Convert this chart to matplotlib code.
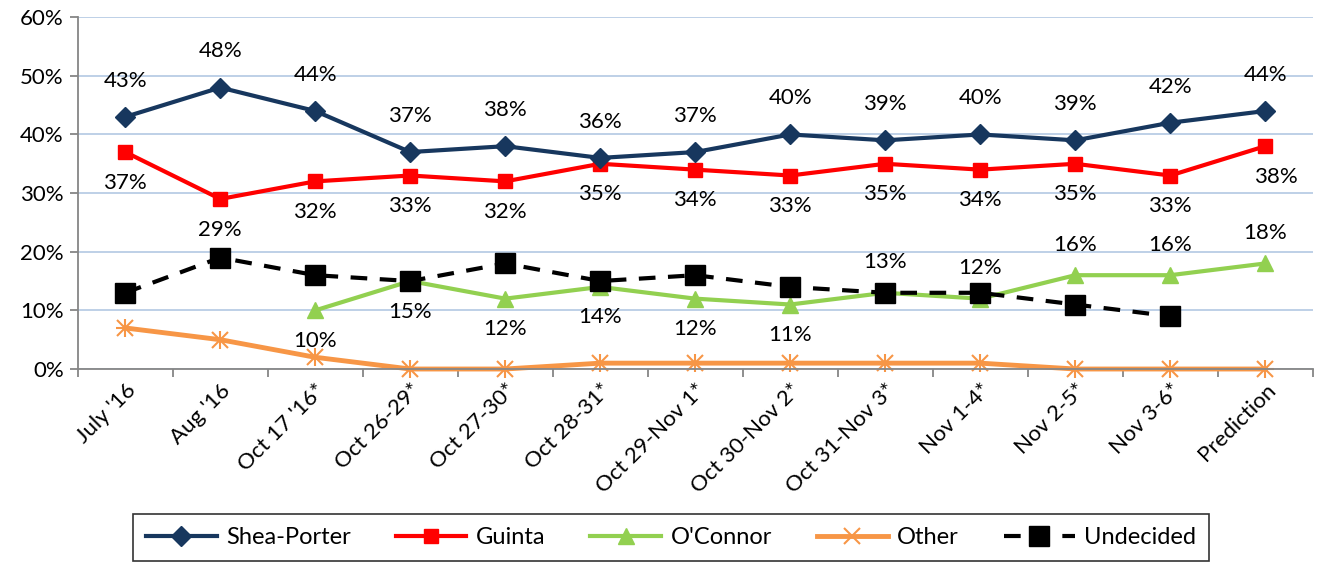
import numpy as np
import matplotlib.pyplot as plt
from matplotlib.ticker import FixedLocator

plt.rcParams['font.family'] = ['Lato', 'DejaVu Sans']

categories = ["July '16", "Aug '16", "Oct 17 '16*", "Oct 26-29*", "Oct 27-30*", "Oct 28-31*",
              "Oct 29-Nov 1*", "Oct 30-Nov 2*", "Oct 31-Nov 3*", "Nov 1-4*", "Nov 2-5*",
              "Nov 3-6*", "Prediction"]
shea_porter = [43, 48, 44, 37, 38, 36, 37, 40, 39, 40, 39, 42, 44]
guinta = [37, 29, 32, 33, 32, 35, 34, 33, 35, 34, 35, 33, 38]
oconnor = [np.nan, np.nan, 10, 15, 12, 14, 12, 11, 13, 12, 16, 16, 18]
other = [7, 5, 2, 0, 0, 1, 1, 1, 1, 1, 0, 0, 0]
undecided = [13, 19, 16, 15, 18, 15, 16, 14, 13, 13, 11, 9, np.nan]
# label side for O'Connor: -1 below, 1 above
oconnor_side = [0, 0, -1, -1, -1, -1, -1, -1, 1, 1, 1, 1, 1]

x = np.arange(len(categories))

fig = plt.figure(figsize=(13.18, 5.73), dpi=100)
ax = fig.add_axes([0.059, 0.356, 0.937, 0.614])

ax.plot(x, shea_porter, color='#17375E', lw=3, marker='D', ms=10, label='Shea-Porter', zorder=5, clip_on=False)
ax.plot(x, guinta, color='#FF0000', lw=3, marker='s', ms=10, label='Guinta', zorder=4, clip_on=False)
ax.plot(x, oconnor, color='#92D050', lw=3, marker='^', ms=12, label="O'Connor", zorder=3, clip_on=False)
ax.plot(x, other, color='#F79646', lw=3.5, marker='x', ms=11, mew=1.5, label='Other', zorder=2, clip_on=False)
ax.plot(x, other, color='#F79646', lw=0, marker='+', ms=13, mew=1.5, zorder=2, clip_on=False)
ax.plot(x, undecided, color='black', lw=3, ls=(0, (4, 3)), marker='s', ms=14,
        label='Undecided', zorder=6, clip_on=False)

for i, v in enumerate(shea_porter):
    ax.annotate(f"{v}%", (x[i], v), xytext=(0, 26), textcoords='offset points',
                ha='center', va='center', fontsize=16)
for i, v in enumerate(guinta):
    dx = 8 if i == len(guinta) - 1 else 0
    ax.annotate(f"{v}%", (x[i], v), xytext=(dx, -22), textcoords='offset points',
                ha='center', va='center', fontsize=16)
for i, v in enumerate(oconnor):
    if np.isnan(v):
        continue
    ax.annotate(f"{v:.0f}%", (x[i], v), xytext=(0, 22 * oconnor_side[i]), textcoords='offset points',
                ha='center', va='center', fontsize=16)

ax.set_xlim(-0.5, len(categories) - 0.5)
ax.set_ylim(0, 60)
ax.set_yticks(range(0, 61, 10))
ax.set_yticklabels([f"{t}%" for t in range(0, 61, 10)], fontsize=16)
ax.yaxis.grid(True, color='#B9CDE5', lw=1.3)
ax.set_axisbelow(True)

ax.set_xticks(x)
ax.set_xticklabels(categories, rotation=45, ha='right', rotation_mode='anchor', fontsize=16)
ax.tick_params(axis='x', which='major', length=0, pad=8)
ax.xaxis.set_minor_locator(FixedLocator(np.arange(-0.5, len(categories), 1)))
ax.tick_params(axis='x', which='minor', length=6, color='#868686', width=1.3)
ax.tick_params(axis='y', length=6, color='#868686', width=1.3, pad=4)

for s in ['top', 'right']:
    ax.spines[s].set_visible(False)
for s in ['left', 'bottom']:
    ax.spines[s].set_color('#868686')
    ax.spines[s].set_linewidth(1.3)

leg = fig.legend(loc='lower center', bbox_to_anchor=(0.509, 0.0), ncol=5, fontsize=17,
                 frameon=True, fancybox=False, edgecolor='black', handlelength=3.0,
                 handletextpad=0.4, columnspacing=1.9, borderpad=0.55)
leg.get_frame().set_linewidth(1.2)

fig.savefig('out.png', dpi=100)
